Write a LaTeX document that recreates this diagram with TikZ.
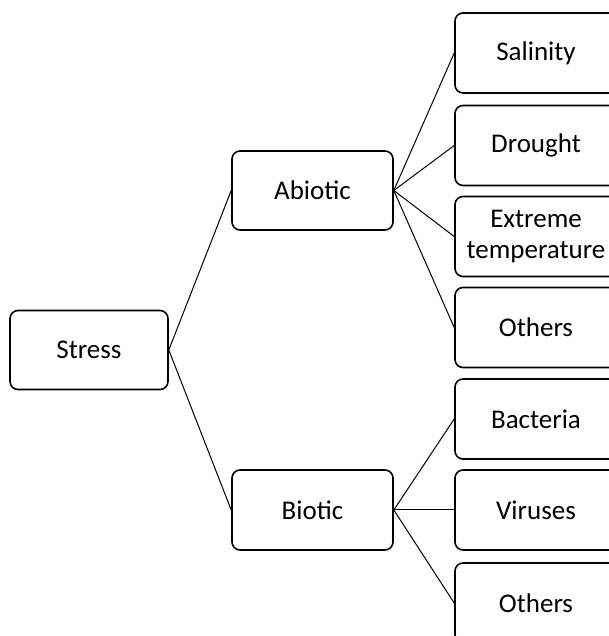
\documentclass[tikz,border=0pt]{standalone}
\usepackage{fontspec}
\setmainfont{Carlito}
\usepackage{tikz}
\tikzset{>=latex}

\begin{document}
\begin{tikzpicture}[x=0.5pt,y=0.5pt,
    box/.style={draw, rounded corners=4pt, line width=0.8pt, align=center,
      font=\fontsize{13.5}{15.5}\selectfont, minimum height=40pt, inner sep=0pt},
    link/.style={line width=0.5pt}]
      \useasboundingbox (0,0) rectangle (609,636);
      \clip (0,0) rectangle (609,636);
      % left and middle levels
      \node (stress) at (89,286) [box, minimum width=79pt, minimum height=39.5pt]{Stress};
      \node (abiotic) at (312.5,445.5) [box, minimum width=80.5pt, minimum height=39.5pt]{Abiotic};
      \node (biotic) at (312.5,126) [box, minimum width=80.5pt]{Biotic};
      % right level, cut at the edge
      \node (salinity) at (536,583) [box, minimum width=81pt]{Salinity};
      \node (drought) at (536,490.5) [box, minimum width=81pt]{Drought};
      \node (extreme) at (536,399.5) [box, minimum width=81pt]{Extreme\\temperature};
      \node (othersA) at (536,308.5) [box, minimum width=81pt]{Others};
      \node (bacteria) at (536,217) [box, minimum width=81pt]{Bacteria};
      \node (viruses) at (536,126) [box, minimum width=81pt]{Viruses};
      \node (othersB) at (536,33) [box, minimum width=81pt]{Others};
      \draw[link] (stress.east) -- (abiotic.west);
      \draw[link] (stress.east) -- (biotic.west);
      \foreach \n in {salinity,drought,extreme,othersA}
        \draw[link] (abiotic.east) -- (\n.west);
      \foreach \n in {bacteria,viruses,othersB}
        \draw[link] (biotic.east) -- (\n.west);
\end{tikzpicture}
\end{document}
